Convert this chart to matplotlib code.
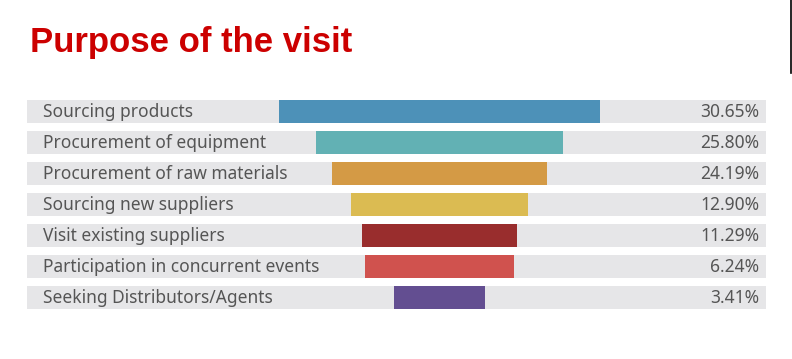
import matplotlib.pyplot as plt
from matplotlib.lines import Line2D

categories = [
    "Sourcing products",
    "Procurement of equipment",
    "Procurement of raw materials",
    "Sourcing new suppliers",
    "Visit existing suppliers",
    "Participation in concurrent events",
    "Seeking Distributors/Agents",
]
shares = [30.65, 25.80, 24.19, 12.90, 11.29, 6.24, 3.41]
# funnel bar lengths as drawn, in % of the grey track
funnel_len = [43.4, 33.4, 29.1, 24.0, 21.0, 20.2, 12.3]
colors = ["#4d91b8", "#62b1b4", "#d49a45", "#dbbb52", "#992d2d", "#d0524e", "#634e91"]

CENTER = 55.8

fig = plt.figure(figsize=(7.92, 3.59), dpi=100)
ax = fig.add_axes([27 / 792, 46 / 359, 739 / 792, 217 / 359])

y = list(range(len(categories)))
ax.barh(y, [100] * len(y), left=0, height=0.75, color="#e6e6e8")
lefts = [CENTER - w / 2 for w in funnel_len]
ax.barh(y, funnel_len, left=lefts, height=0.75, color=colors)

for i, (cat, val) in enumerate(zip(categories, shares)):
    ax.text(2.2, i + 0.02, cat, va="center", ha="left", fontsize=12.5,
            family="Noto Sans", color="#555555")
    ax.text(99.1, i + 0.02, f"{val:.2f}%", va="center", ha="right", fontsize=12.5,
            family="Noto Sans", color="#555555")

ax.set_xlim(0, 100)
ax.set_ylim(6.5, -0.5)
ax.axis("off")

fig.text(30 / 792, (359 - 52) / 359, "Purpose of the visit", color="#cc0000",
         fontsize=25, fontweight="bold", family="Liberation Sans", va="baseline")
fig.add_artist(Line2D([790.5 / 792, 790.5 / 792], [1, (359 - 73) / 359],
                      color="black", lw=1.2, transform=fig.transFigure))

fig.savefig("out.png", dpi=100)
